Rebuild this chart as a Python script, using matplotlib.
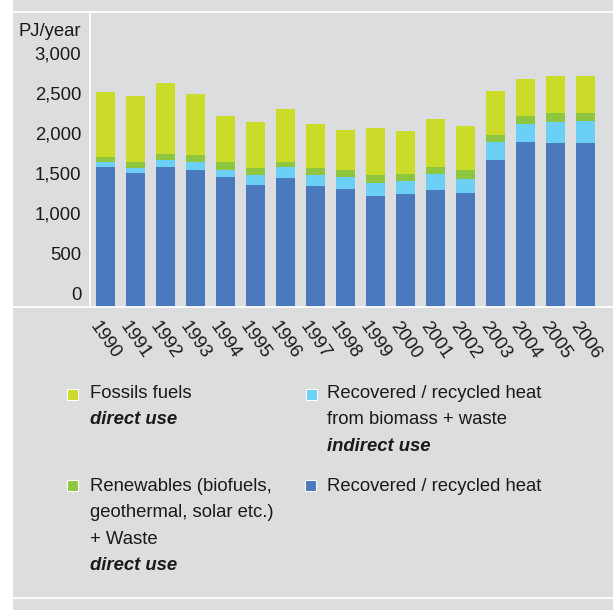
import matplotlib.pyplot as plt
from matplotlib.patches import Rectangle
from matplotlib.lines import Line2D
from matplotlib.transforms import ScaledTranslation

years = ['1990', '1991', '1992', '1993', '1994', '1995', '1996', '1997', '1998',
         '1999', '2000', '2001', '2002', '2003', '2004', '2005', '2006']
recovered = [1746, 1671, 1746, 1709, 1621, 1521, 1609, 1509, 1471,
             1384, 1409, 1459, 1421, 1834, 2059, 2046, 2046]
recovered_bio = [63, 63, 88, 100, 88, 121, 138, 134, 150,
                 163, 163, 200, 175, 225, 225, 263, 275]
renewables = [63, 75, 75, 88, 100, 91, 63, 91, 88,
              100, 88, 88, 113, 88, 100, 113, 100]
fossils = [813, 825, 888, 763, 575, 575, 663, 550, 500,
           588, 538, 600, 550, 550, 463, 463, 463]
yticks = [0, 500, 1000, 1500, 2000, 2500, 3000]

c_blue = '#4a79bd'
c_light = '#6bcff6'
c_green = '#8ec63f'
c_yellow = '#cbdb29'
bg = '#dcdddf'
txt = '#1a1a1a'

plt.rcParams['font.family'] = ['Liberation Sans', 'DejaVu Sans']
plt.rcParams['font.size'] = 13.3

W, H = 613, 610
fig = plt.figure(figsize=(W / 100, H / 100), dpi=100, facecolor='white')

def fx(px):
    return px / W

def fy(py):
    return 1 - py / H

# grey panel and white separator lines
fig.add_artist(Rectangle((fx(13), 0), 1 - fx(13), 1, transform=fig.transFigure,
                         facecolor=bg, edgecolor='none', zorder=0))
for y in [11.5, 307.5, 598.3]:
    fig.add_artist(Line2D([fx(13), 1], [fy(y), fy(y)], transform=fig.transFigure,
                          color='white', lw=1.3, zorder=5))
fig.add_artist(Line2D([fx(90.3), fx(90.3)], [fy(12), fy(307)], transform=fig.transFigure,
                      color='white', lw=1.3, zorder=5))

ax = fig.add_axes([fx(90.5), fy(306.7), 1 - fx(90.5), (306.7 - 12) / H])
ax.set_facecolor('none')
x = list(range(len(years)))
w = 0.63
b1 = recovered
b2 = [a + b for a, b in zip(b1, recovered_bio)]
b3 = [a + b for a, b in zip(b2, renewables)]
ax.bar(x, recovered, w, color=c_blue)
ax.bar(x, recovered_bio, w, bottom=b1, color=c_light)
ax.bar(x, renewables, w, bottom=b2, color=c_green)
ax.bar(x, fossils, w, bottom=b3, color=c_yellow)

ax.set_xlim(-0.5, 16.92)
ax.set_ylim(0, 3684)
for s in ax.spines.values():
    s.set_visible(False)

ax.set_yticks(yticks, [f'{v:,}' for v in yticks])
ax.tick_params(axis='y', length=0, pad=6.7, labelcolor=txt)
for lab in ax.get_yticklabels():
    lab.set_transform(lab.get_transform() + ScaledTranslation(0, 0.135, fig.dpi_scale_trans))

ax.set_xticks(x, years, rotation=-55, ha='center', va='center')
ax.tick_params(axis='x', length=0, pad=24.3, labelcolor=txt)

fig.text(fx(81), fy(36), 'PJ/year', ha='right', va='baseline', color=txt)

# legend
def square(cx, cy, color):
    fig.add_artist(Rectangle((fx(cx - 5.5), fy(cy + 5.5)), 11 / W, 11 / H,
                             transform=fig.transFigure, facecolor=color,
                             edgecolor='white', lw=0.8, zorder=6))

def line(px, py, s, bold=False):
    fig.text(fx(px), fy(py), s, ha='left', va='baseline', color=txt,
             fontweight='bold' if bold else 'normal',
             fontstyle='italic' if bold else 'normal')

square(72.5, 394.5, c_yellow)
line(89.5, 398.3, 'Fossils fuels')
line(89.5, 424.5, 'direct use', True)

square(311, 394.5, c_light)
line(327, 398.3, 'Recovered / recycled heat')
line(327, 424.5, 'from biomass + waste')
line(327, 450.7, 'indirect use', True)

square(72.5, 485, c_green)
line(89.5, 490.7, 'Renewables (biofuels,')
line(89.5, 517, 'geothermal, solar etc.)')
line(89.5, 543.5, '+ Waste')
line(89.5, 570, 'direct use', True)

square(310, 485, c_blue)
line(327, 490.7, 'Recovered / recycled heat')

fig.savefig('out.png', dpi=100, facecolor='white')
